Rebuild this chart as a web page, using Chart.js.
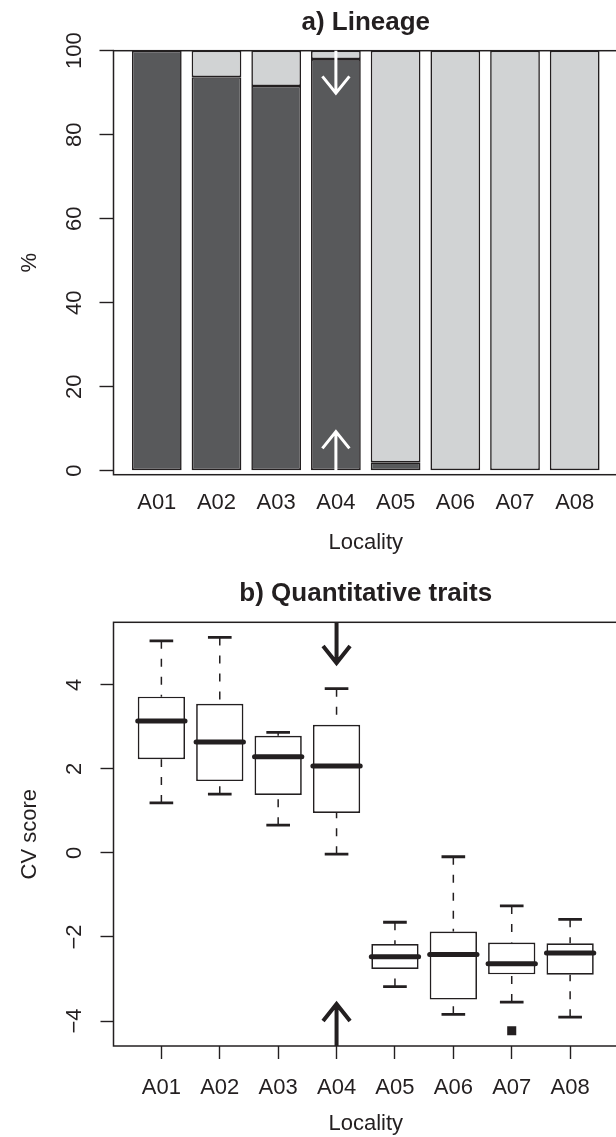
<!DOCTYPE html>
<html>
<head>
<meta charset="utf-8">
<script src="https://cdn.jsdelivr.net/npm/chart.js@4.4.0/dist/chart.umd.min.js"></script>
<style>
  html, body { margin: 0; padding: 0; background: #fff; overflow: hidden; }
  canvas { display: block; }
</style>
</head>
<body>
<canvas id="lineageChart" width="620" height="568"></canvas>
<canvas id="traitChart" width="620" height="569"></canvas>
<script>
// localities, shared by both panels
const localities = ['A01', 'A02', 'A03', 'A04', 'A05', 'A06', 'A07', 'A08'];

// a) Lineage (% per locality)
const lineageDark = [100, 93.7, 91.6, 98, 2, 0, 0, 0];
const lineageLight = [0, 6.3, 8.4, 2, 98, 100, 100, 100];
const lineageTicks = [0, 20, 40, 60, 80, 100];

// b) Quantitative traits, CV score boxplot stats
const cvLow = [1.19, 1.40, 0.66, -0.03, -3.18, -3.84, -3.55, -3.91];
const cvQ1 = [2.23, 1.71, 1.38, 0.95, -2.76, -3.49, -2.89, -2.90];
const cvMedian = [3.14, 2.64, 2.29, 2.07, -2.47, -2.42, -2.64, -2.38];
const cvQ3 = [3.72, 3.55, 2.79, 3.05, -2.17, -1.87, -2.13, -2.15];
const cvHigh = [5.05, 5.13, 2.87, 3.91, -1.65, -0.09, -1.26, -1.58];
const cvOutlierLoc = ['A07'];
const cvOutlierValue = [-4.23];
const cvTicks = [-4, -2, 0, 2, 4];

// locality pointed at by the arrows
const markedLocality = 'A04';

const ink = '#231f20';
const family = "'Liberation Sans', Arial, Helvetica, sans-serif";
Chart.defaults.font.family = family;
Chart.defaults.color = ink;

const xPos = loc => localities.indexOf(loc) + 1;
const minus = v => (v < 0 ? '\u2212' + Math.abs(v) : String(v));

// box around the plot region
const frame = {
  id: 'frame',
  afterDatasetsDraw(chart) {
    const { ctx, chartArea: a } = chart;
    ctx.save();
    ctx.strokeStyle = ink;
    ctx.lineWidth = 1.5;
    ctx.strokeRect(a.left, a.top, a.right - a.left, a.bottom - a.top);
    ctx.restore();
  }
};

function drawArrow(ctx, x, from, tip, head, half) {
  const dir = Math.sign(tip - from);
  ctx.beginPath();
  ctx.moveTo(x, from);
  ctx.lineTo(x, tip);
  ctx.moveTo(x - half, tip - dir * head);
  ctx.lineTo(x, tip);
  ctx.lineTo(x + half, tip - dir * head);
  ctx.stroke();
}

// arrows marking one locality, ends given in data units
function arrows(color, width, topEnds, bottomEnds, head) {
  return {
    id: 'arrows',
    afterDraw(chart) {
      const { ctx, scales: { x, y } } = chart;
      const px = x.getPixelForValue(xPos(markedLocality));
      ctx.save();
      ctx.strokeStyle = color;
      ctx.lineWidth = width;
      ctx.lineJoin = 'miter';
      drawArrow(ctx, px, y.getPixelForValue(topEnds[0]), y.getPixelForValue(topEnds[1]), head, 13.5);
      drawArrow(ctx, px, y.getPixelForValue(bottomEnds[0]), y.getPixelForValue(bottomEnds[1]), head, 13.5);
      ctx.restore();
    }
  };
}

// whiskers, caps and medians for the boxplot
const boxParts = {
  id: 'boxParts',
  beforeDatasetsDraw(chart) {
    const { ctx, scales: { y } } = chart;
    const bars = chart.getDatasetMeta(0).data;
    ctx.save();
    ctx.strokeStyle = ink;
    bars.forEach((bar, i) => {
      const cx = bar.x;
      const cap = bar.width / 4;
      ctx.lineWidth = 1.5;
      ctx.setLineDash([8, 10]);
      ctx.beginPath();
      ctx.moveTo(cx, y.getPixelForValue(cvHigh[i]));
      ctx.lineTo(cx, y.getPixelForValue(cvQ3[i]));
      ctx.moveTo(cx, y.getPixelForValue(cvLow[i]));
      ctx.lineTo(cx, y.getPixelForValue(cvQ1[i]));
      ctx.stroke();
      ctx.setLineDash([]);
      ctx.lineWidth = 2.8;
      ctx.beginPath();
      ctx.moveTo(cx - cap, y.getPixelForValue(cvHigh[i]));
      ctx.lineTo(cx + cap, y.getPixelForValue(cvHigh[i]));
      ctx.moveTo(cx - cap, y.getPixelForValue(cvLow[i]));
      ctx.lineTo(cx + cap, y.getPixelForValue(cvLow[i]));
      ctx.stroke();
    });
    ctx.restore();
  },
  afterDatasetsDraw(chart) {
    const { ctx, scales: { y } } = chart;
    const bars = chart.getDatasetMeta(0).data;
    ctx.save();
    ctx.strokeStyle = ink;
    ctx.lineWidth = 5;
    ctx.lineCap = 'round';
    bars.forEach((bar, i) => {
      const py = y.getPixelForValue(cvMedian[i]);
      ctx.beginPath();
      ctx.moveTo(bar.x - bar.width / 2, py);
      ctx.lineTo(bar.x + bar.width / 2, py);
      ctx.stroke();
    });
    ctx.restore();
  }
};

const tickFont = { family: family, size: 22 };
const titleFont = { family: family, size: 26, weight: 'bold' };

// a) Lineage
new Chart(document.getElementById('lineageChart'), {
  type: 'bar',
  data: {
    datasets: [
      {
        data: lineageDark.map((v, i) => ({ x: i + 1, y: v })),
        backgroundColor: '#58595b',
        borderColor: ink,
        borderWidth: 1.6,
        borderSkipped: false,
        barPercentage: 0.833,
        categoryPercentage: 1
      },
      {
        data: lineageLight.map((v, i) => ({ x: i + 1, y: v })),
        backgroundColor: '#d1d3d4',
        borderColor: ink,
        borderWidth: 1.6,
        borderSkipped: false,
        barPercentage: 0.833,
        categoryPercentage: 1
      }
    ]
  },
  options: {
    responsive: false,
    animation: false,
    devicePixelRatio: 1,
    layout: { autoPadding: false, padding: { left: 0, right: 2, top: 0, bottom: 0 } },
    plugins: {
      legend: { display: false },
      tooltip: { enabled: false },
      title: {
        display: true,
        text: 'a) Lineage',
        fullSize: false,
        color: ink,
        font: titleFont,
        padding: { top: 7.4, bottom: 12.1 }
      }
    },
    scales: {
      x: {
        type: 'linear',
        stacked: true,
        offset: false,
        min: 0.275,
        max: 8.725,
        afterBuildTicks: s => { s.ticks = localities.map((l, i) => ({ value: i + 1 })); },
        afterFit: s => { s.height = 93.3; },
        grid: { display: false, drawTicks: false, offset: false },
        border: { display: false },
        ticks: {
          autoSkip: false, maxRotation: 0, padding: 15.1, color: ink, font: tickFont,
          callback: (v, i) => localities[i]
        },
        title: { display: true, text: 'Locality', color: ink, font: tickFont, padding: { top: 0, bottom: 12.3 } }
      },
      y: {
        type: 'linear',
        stacked: true,
        min: -0.95,
        max: 100,
        afterBuildTicks: s => { s.ticks = lineageTicks.map(v => ({ value: v })); },
        afterFit: s => { s.width = 113.5; },
        grid: { display: true, drawOnChartArea: false, drawTicks: true, tickLength: 14, tickWidth: 1.4, tickColor: ink, color: ink },
        border: { display: false },
        ticks: {
          autoSkip: false, minRotation: 90, maxRotation: 90, crossAlign: 'center', padding: 6.2,
          color: ink, font: tickFont, callback: v => String(v)
        },
        title: { display: true, text: '%', color: ink, font: tickFont, padding: { top: 16.8, bottom: 0 } }
      }
    }
  },
  plugins: [frame, arrows('#ffffff', 3, [100, 89.9], [0, 9.3], 16.7)]
});

// b) Quantitative traits
new Chart(document.getElementById('traitChart'), {
  type: 'bar',
  data: {
    datasets: [
      {
        data: localities.map((l, i) => ({ x: i + 1, y: [cvQ1[i], cvQ3[i]] })),
        backgroundColor: '#ffffff',
        borderColor: ink,
        borderWidth: 1.7,
        borderSkipped: false,
        barPercentage: 0.81,
        categoryPercentage: 1
      },
      {
        type: 'scatter',
        data: cvOutlierLoc.map((l, i) => ({ x: xPos(l), y: cvOutlierValue[i] })),
        pointStyle: 'rect',
        pointRadius: 6.4,
        backgroundColor: ink,
        borderColor: ink,
        borderWidth: 0
      }
    ]
  },
  options: {
    responsive: false,
    animation: false,
    devicePixelRatio: 1,
    layout: { autoPadding: false, padding: { left: 0, right: 2, top: 0, bottom: 0 } },
    plugins: {
      legend: { display: false },
      tooltip: { enabled: false },
      title: {
        display: true,
        text: 'b) Quantitative traits',
        fullSize: false,
        color: ink,
        font: titleFont,
        padding: { top: 10.4, bottom: 12.7 }
      }
    },
    scales: {
      x: {
        type: 'linear',
        offset: false,
        min: 0.18,
        max: 8.82,
        afterBuildTicks: s => { s.ticks = localities.map((l, i) => ({ value: i + 1 })); },
        afterFit: s => { s.height = 91; },
        grid: { display: true, offset: false, drawOnChartArea: false, drawTicks: true, tickLength: 13, tickWidth: 1.4, tickColor: ink, color: ink },
        border: { display: false },
        ticks: {
          autoSkip: false, maxRotation: 0, padding: 15.3, color: ink, font: tickFont,
          callback: (v, i) => localities[i]
        },
        title: { display: true, text: 'Locality', color: ink, font: tickFont, padding: { top: 0, bottom: 0 } }
      },
      y: {
        type: 'linear',
        min: -4.595,
        max: 5.49,
        afterBuildTicks: s => { s.ticks = cvTicks.map(v => ({ value: v })); },
        afterFit: s => { s.width = 113.5; },
        grid: { display: true, drawOnChartArea: false, drawTicks: true, tickLength: 13, tickWidth: 1.4, tickColor: ink, color: ink },
        border: { display: false },
        ticks: {
          autoSkip: false, minRotation: 90, maxRotation: 90, crossAlign: 'center', padding: 13,
          color: ink, font: tickFont, callback: v => minus(v)
        },
        title: { display: true, text: 'CV score', color: ink, font: tickFont, padding: { top: 16.8, bottom: 0 } }
      }
    }
  },
  plugins: [boxParts, frame, arrows(ink, 4, [5.49, 4.52], [-4.595, -3.595], 17)]
});
</script>
</body>
</html>
